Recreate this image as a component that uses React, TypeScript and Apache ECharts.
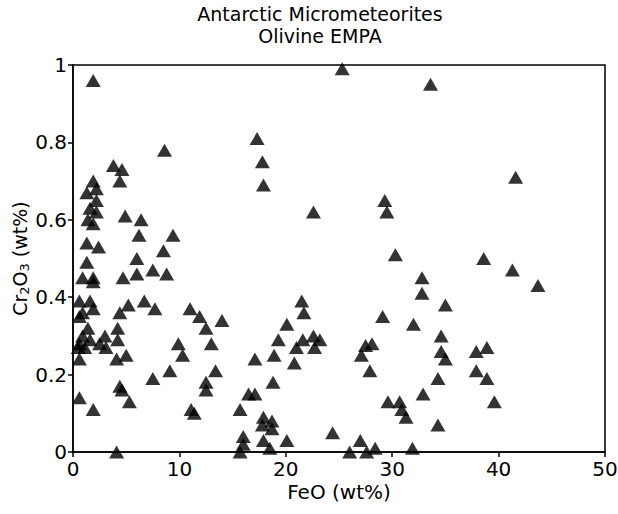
import React, { useEffect, useRef } from "react";
import * as echarts from "echarts";

const titleLines = ["Antarctic Micrometeorites", "Olivine EMPA"];
const xTitle = "FeO (wt%)";
const xTicks = [0, 10, 20, 30, 40, 50];
const yTicks = [0, 0.2, 0.4, 0.6, 0.8, 1];

const feo = [
  1.9, 25.3, 33.6, 17.3, 17.8, 17.9, 8.6, 41.6, 22.6, 29.3, 29.5, 30.3, 38.6, 41.3, 43.7, 32.8, 32.8, 35.0,
  29.1, 32.0, 34.6, 34.6, 35.0, 37.9, 38.9, 37.9, 38.9, 39.6, 34.3, 32.9, 29.6, 30.7, 30.9, 31.3, 34.3, 31.9,
  3.8, 4.6, 4.4, 1.9, 2.2, 1.3, 2.2, 1.6, 2.2, 1.4, 1.9, 4.9, 6.4, 6.2, 9.4, 1.3, 2.4, 6.0, 8.5, 1.3,
  0.9, 1.9, 1.9, 4.7, 6.0, 7.5, 8.8, 0.6, 1.6, 1.9, 0.9, 0.6, 4.4, 5.2, 6.7, 7.7, 11.0, 11.9,
  1.4, 0.9, 1.6, 0.6, 0.5, 1.1, 3.0, 2.5, 3.1, 4.2, 4.2, 4.1, 5.0, 9.9, 10.3, 9.1, 7.5, 0.6, 0.6, 1.9,
  4.4, 4.6, 5.3, 4.1, 11.1, 11.4, 14.0, 12.5, 13.0, 13.4, 12.5, 12.5, 15.7, 17.1, 18.9, 19.3, 20.1, 21.5,
  21.7, 21.6, 21.0, 20.8, 22.6, 23.2, 22.7, 18.8, 16.5, 17.1, 17.9, 18.7, 18.7, 17.8, 16.0, 16.0, 15.7,
  17.9, 18.5, 20.1, 24.4, 27.0, 26.0, 27.6, 28.4, 28.1, 27.5, 27.1, 27.9
];

const cr2o3 = [
  0.96, 0.99, 0.95, 0.81, 0.75, 0.69, 0.78, 0.71, 0.62, 0.65, 0.62, 0.51, 0.50, 0.47, 0.43, 0.45, 0.41, 0.38,
  0.35, 0.33, 0.30, 0.26, 0.24, 0.26, 0.27, 0.21, 0.19, 0.13, 0.19, 0.15, 0.13, 0.13, 0.11, 0.09, 0.07, 0.01,
  0.74, 0.73, 0.70, 0.70, 0.68, 0.67, 0.65, 0.63, 0.62, 0.60, 0.59, 0.61, 0.60, 0.56, 0.56, 0.54, 0.53, 0.50, 0.52, 0.49,
  0.45, 0.45, 0.44, 0.45, 0.46, 0.47, 0.46, 0.39, 0.39, 0.37, 0.36, 0.35, 0.36, 0.38, 0.39, 0.37, 0.37, 0.35,
  0.32, 0.30, 0.29, 0.28, 0.27, 0.27, 0.30, 0.28, 0.27, 0.32, 0.29, 0.24, 0.25, 0.28, 0.25, 0.21, 0.19, 0.24, 0.14, 0.11,
  0.17, 0.16, 0.13, 0.0, 0.11, 0.10, 0.34, 0.32, 0.28, 0.21, 0.18, 0.16, 0.11, 0.24, 0.25, 0.29, 0.33, 0.39,
  0.36, 0.29, 0.27, 0.23, 0.30, 0.29, 0.27, 0.18, 0.15, 0.15, 0.09, 0.08, 0.06, 0.07, 0.04, 0.02, 0.0,
  0.03, 0.01, 0.03, 0.05, 0.03, 0.0, 0.0, 0.01, 0.28, 0.275, 0.25, 0.21
];

const FONT = "DejaVu Sans";

export default function App() {
  const ref = useRef<HTMLDivElement>(null);
  useEffect(() => {
    document.body.style.margin = "0";
    const chart = echarts.init(ref.current!, null, { renderer: "svg" });
    chart.setOption({
      animation: false,
      backgroundColor: "#ffffff",
      textStyle: { fontFamily: FONT, color: "#000" },
      graphic: titleLines.map((t, i) => ({
        type: "text",
        x: 320,
        y: 14 + i * 22,
        style: {
          text: t,
          font: `19px '${FONT}'`,
          fill: "#000",
          textAlign: "center",
          textVerticalAlign: "middle",
        },
      })),
      grid: {
        left: 73,
        top: 65,
        right: 13,
        bottom: 62,
        containLabel: false,
        outerBoundsMode: "none",
        show: true,
        borderColor: "#000",
        borderWidth: 1.5,
        backgroundColor: "transparent",
      },
      xAxis: {
        type: "value",
        min: xTicks[0],
        max: xTicks[xTicks.length - 1],
        interval: 10,
        name: xTitle,
        nameLocation: "middle",
        nameGap: 30,
        nameMoveOverlap: false,
        nameTextStyle: { fontSize: 20, color: "#000", fontFamily: FONT },
        axisLine: { show: true, lineStyle: { color: "#000", width: 1.5 } },
        axisTick: { show: true, length: 5, lineStyle: { color: "#000", width: 1.5 } },
        axisLabel: { fontSize: 20, color: "#000", margin: 7, fontFamily: FONT },
        splitLine: { show: false },
      },
      yAxis: {
        type: "value",
        min: yTicks[0],
        max: yTicks[yTicks.length - 1],
        interval: 0.2,
        name: "{a|Cr}{s|2}{a|O}{s|3}{a| (wt%)}",
        nameLocation: "middle",
        nameRotate: 90,
        nameGap: 42,
        nameMoveOverlap: false,
        nameTextStyle: {
          color: "#000",
          rich: {
            a: { fontSize: 19, color: "#000", fontFamily: FONT, lineHeight: 22 },
            s: { fontSize: 13, color: "#000", fontFamily: FONT, lineHeight: 13, verticalAlign: "bottom" },
          },
        },
        axisLine: { show: true, lineStyle: { color: "#000", width: 1.5 } },
        axisTick: { show: true, length: 5, lineStyle: { color: "#000", width: 1.5 } },
        axisLabel: {
          fontSize: 20,
          color: "#000",
          margin: 6,
          fontFamily: FONT,
          formatter: (v: number) => String(+v.toFixed(1)),
        },
        splitLine: { show: false },
      },
      series: [
        {
          type: "scatter",
          data: feo.map((x, i) => [x, cr2o3[i]]),
          symbol: "triangle",
          symbolSize: [15, 13],
          itemStyle: { color: "#000" },
          clip: false,
        },
      ],
    });
    return () => chart.dispose();
  }, []);
  return <div ref={ref} style={{ width: 618, height: 514 }} />;
}
